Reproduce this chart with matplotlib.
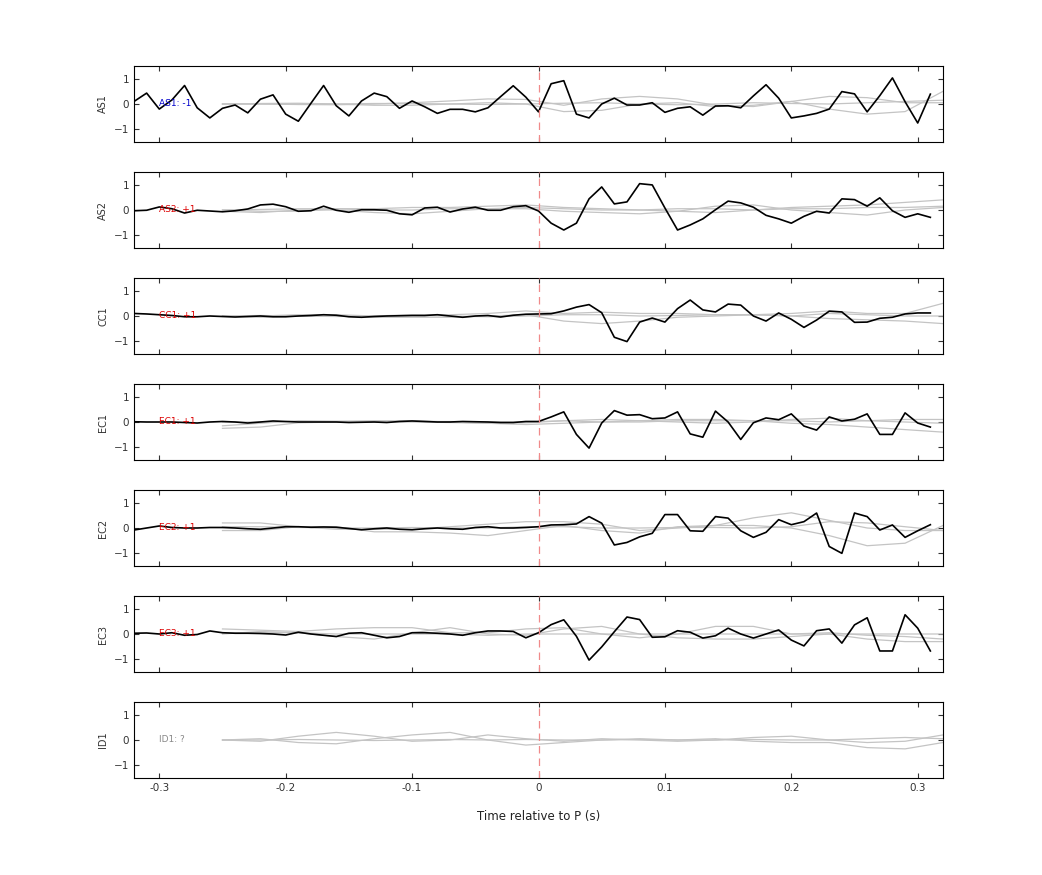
import numpy as np
import matplotlib.pyplot as plt

channels = ['AS1', 'AS2', 'CC1', 'EC1', 'EC2', 'EC3', 'ID1']
labels = ['AS1: -1', 'AS2: +1', 'CC1: +1', 'EC1: +1', 'EC2: +1', 'EC3: +1', 'ID1: ?']
label_colors = ['#0000cc', '#dd0000', '#dd0000', '#dd0000', '#dd0000', '#dd0000', '#888888']

# black traces, sampled every 0.01 s from -0.32 to 0.31
t = np.round(np.arange(-0.32, 0.315, 0.01), 2)
traces = {
    'AS1': [0.1, 0.43, -0.2, 0.16, 0.73, -0.15, -0.55, -0.17, -0.04, -0.35, 0.19, 0.36, -0.4, -0.68, 0.03,
            0.73, -0.07, -0.47, 0.12, 0.43, 0.29, -0.17, 0.12, -0.11, -0.37, -0.21, -0.21, -0.31, -0.15, 0.29,
            0.72, 0.27, -0.31,
            0.8, 0.92, -0.4, -0.55, 0.0, 0.23, -0.04, -0.04, 0.05, -0.33, -0.17, -0.11, -0.44, -0.08, -0.07,
            -0.15, 0.32, 0.76, 0.23, -0.55, -0.47, -0.37, -0.2, 0.49, 0.4, -0.31, 0.33, 1.03, 0.09, -0.75, 0.39],
    'AS2': [-0.03, -0.01, 0.12, 0.05, -0.12, -0.01, -0.04, -0.07, -0.03, 0.04, 0.2, 0.23, 0.13, -0.05, -0.03,
            0.15, -0.01, -0.09, 0.01, 0.01, -0.01, -0.15, -0.19, 0.08, 0.11, -0.08, 0.04, 0.11, -0.01, -0.01,
            0.13, 0.17, -0.04,
            -0.52, -0.79, -0.52, 0.44, 0.91, 0.24, 0.32, 1.04, 0.99, 0.08, -0.79, -0.59, -0.35, 0.01, 0.35,
            0.28, 0.11, -0.21, -0.35, -0.52, -0.25, -0.05, -0.12, 0.44, 0.41, 0.15, 0.48, -0.03, -0.29, -0.15, -0.29],
    'CC1': [0.1, 0.08, 0.05, 0.02, -0.03, -0.03, 0.0, -0.02, -0.04, -0.02, 0.0, -0.03, -0.03, 0.0, 0.02,
            0.05, 0.03, -0.03, -0.05, -0.02, 0.0, 0.01, 0.02, 0.02, 0.05, 0.0, -0.05, 0.0, 0.02, -0.04,
            0.03, 0.07, 0.08,
            0.09, 0.2, 0.35, 0.45, 0.13, -0.84, -1.01, -0.24, -0.08, -0.24, 0.29, 0.63, 0.24, 0.16, 0.47,
            0.43, 0.0, -0.2, 0.12, -0.13, -0.45, -0.16, 0.19, 0.16, -0.25, -0.24, -0.09, -0.05, 0.08, 0.12, 0.12],
    'EC1': [0.01, 0.0, 0.0, 0.0, -0.02, -0.04, 0.0, 0.02, 0.0, -0.04, 0.0, 0.04, 0.02, 0.0, 0.0,
            0.0, 0.0, -0.02, -0.01, 0.0, -0.02, 0.02, 0.04, 0.02, 0.0, 0.0, 0.02, 0.01, 0.0, -0.02,
            -0.02, 0.02, 0.02,
            0.2, 0.4, -0.49, -1.03, -0.04, 0.45, 0.27, 0.29, 0.13, 0.16, 0.4, -0.47, -0.6, 0.43, 0.0,
            -0.69, -0.03, 0.16, 0.09, 0.32, -0.16, -0.32, 0.2, 0.04, 0.11, 0.32, -0.49, -0.49, 0.36, -0.04, -0.2],
    'EC2': [-0.08, 0.0, 0.08, 0.02, 0.0, 0.0, 0.02, 0.02, 0.0, -0.03, -0.05, 0.0, 0.05, 0.05, 0.03,
            0.04, 0.03, -0.02, -0.07, -0.03, 0.0, -0.05, -0.07, -0.03, 0.0, -0.03, -0.05, 0.02, 0.05, 0.0,
            0.0, 0.02, 0.05,
            0.12, 0.13, 0.16, 0.45, 0.19, -0.67, -0.57, -0.35, -0.21, 0.53, 0.53, -0.11, -0.13, 0.45, 0.39,
            -0.11, -0.37, -0.17, 0.33, 0.13, 0.25, 0.59, -0.73, -1.0, 0.59, 0.45, -0.08, 0.12, -0.37, -0.11, 0.13],
    'EC3': [0.03, 0.04, 0.0, 0.05, -0.05, -0.02, 0.12, 0.05, 0.03, 0.03, 0.02, 0.0, -0.04, 0.07, 0.0,
            -0.05, -0.1, 0.03, 0.05, -0.05, -0.15, -0.1, 0.05, 0.05, 0.03, 0.0, -0.05, 0.05, 0.12, 0.12,
            0.1, -0.15, 0.05,
            0.37, 0.56, -0.09, -1.03, -0.51, 0.09, 0.67, 0.57, -0.13, -0.11, 0.13, 0.07, -0.16, -0.07, 0.23,
            0.0, -0.16, 0.0, 0.16, -0.24, -0.47, 0.13, 0.2, -0.36, 0.36, 0.64, -0.67, -0.67, 0.76, 0.23, -0.67],
    'ID1': None,
}

# grey reference traces, sampled every 0.03 s from -0.25 to 0.32
tg = np.round(np.arange(-0.25, 0.325, 0.03), 2)
grey = {
    'AS1': [[0.0, 0.0, -0.02, -0.03, 0.0, 0.05, 0.12, 0.2, 0.18, -0.05, 0.2, 0.3, 0.2, -0.05, -0.1, 0.1, 0.3, 0.25, 0.05, 0.05],
            [0.0, 0.02, 0.03, 0.0, -0.05, -0.05, 0.0, 0.05, 0.0, -0.3, -0.25, 0.0, 0.05, -0.1, -0.05, 0.1, -0.2, -0.4, -0.3, 0.5],
            [0.0, 0.0, 0.0, 0.0, 0.02, 0.02, 0.0, -0.02, 0.0, 0.03, 0.05, 0.0, -0.03, 0.0, 0.05, 0.02, 0.0, 0.05, 0.1, 0.15]],
    'AS2': [[0.0, -0.05, -0.05, 0.05, 0.05, 0.1, 0.1, 0.15, 0.2, 0.1, 0.05, 0.0, -0.05, -0.1, 0.0, 0.1, 0.15, 0.2, 0.3, 0.4],
            [-0.05, -0.1, 0.0, 0.0, -0.1, -0.15, -0.05, 0.05, 0.05, -0.05, -0.1, -0.15, -0.05, 0.15, 0.2, 0.0, -0.1, -0.2, 0.0, 0.1],
            [0.0, 0.02, 0.05, 0.05, 0.0, 0.0, 0.05, 0.05, 0.1, 0.05, 0.0, 0.0, 0.05, 0.05, 0.0, 0.05, 0.05, 0.1, 0.1, 0.15]],
    'CC1': [[0.0, 0.0, 0.05, 0.05, 0.0, 0.05, 0.05, 0.1, 0.2, 0.1, 0.15, 0.1, 0.1, 0.05, 0.05, 0.1, 0.2, 0.1, 0.1, 0.5],
            [0.0, -0.05, 0.0, 0.0, -0.05, -0.05, -0.05, 0.0, 0.05, -0.2, -0.3, -0.2, -0.05, 0.0, 0.05, 0.0, -0.1, -0.15, -0.2, -0.3],
            [0.0, 0.02, 0.0, -0.02, 0.0, 0.02, 0.0, -0.03, 0.0, 0.05, 0.05, 0.0, 0.02, 0.05, 0.05, 0.0, 0.1, 0.05, 0.0, 0.0]],
    'EC1': [[-0.25, -0.2, -0.03, 0.0, 0.02, 0.0, -0.02, -0.05, -0.03, 0.05, 0.1, 0.05, 0.0, -0.05, 0.0, 0.1, 0.15, 0.05, 0.0, -0.05],
            [-0.15, -0.05, 0.05, 0.03, 0.05, 0.05, 0.0, -0.05, -0.1, -0.05, 0.0, 0.05, 0.1, 0.1, 0.05, -0.05, -0.1, -0.2, -0.3, -0.4],
            [0.0, 0.0, 0.02, 0.02, 0.0, 0.02, 0.02, 0.0, 0.0, 0.05, 0.0, 0.0, 0.05, 0.05, 0.05, 0.05, 0.0, 0.05, 0.1, 0.1]],
    'EC2': [[0.2, 0.2, 0.05, -0.05, -0.05, -0.05, 0.05, 0.15, 0.25, 0.25, 0.15, -0.1, 0.0, 0.1, 0.4, 0.6, 0.3, 0.0, -0.1, -0.1],
            [-0.1, -0.1, 0.05, 0.05, -0.15, -0.15, -0.2, -0.3, -0.1, 0.1, -0.1, -0.2, 0.05, 0.1, 0.1, 0.0, -0.3, -0.7, -0.6, 0.1],
            [0.05, 0.05, 0.02, 0.0, 0.0, 0.02, 0.0, 0.0, 0.05, 0.05, 0.0, 0.0, 0.02, 0.02, 0.0, 0.05, 0.25, 0.2, 0.05, -0.1]],
    'EC3': [[0.2, 0.15, 0.1, 0.2, 0.25, 0.25, 0.05, 0.05, 0.2, 0.25, 0.0, -0.15, 0.0, 0.3, 0.3, 0.0, 0.05, -0.05, -0.1, -0.2],
            [0.0, 0.1, 0.05, -0.1, -0.2, 0.05, 0.25, 0.0, -0.05, 0.2, 0.3, 0.0, -0.15, -0.2, -0.2, -0.1, 0.0, -0.2, -0.3, -0.3],
            [0.05, 0.05, 0.05, 0.0, 0.0, 0.0, 0.0, -0.05, 0.0, 0.0, 0.0, 0.0, 0.0, 0.0, 0.0, 0.0, 0.0, 0.0, 0.0, 0.0]],
    'ID1': [[0.0, -0.05, 0.15, 0.3, 0.15, -0.05, 0.0, 0.2, 0.05, -0.05, 0.05, 0.0, -0.05, 0.0, 0.1, 0.15, 0.0, -0.1, -0.05, 0.2],
            [0.0, 0.05, -0.1, -0.15, 0.05, 0.2, 0.3, 0.0, -0.2, -0.1, 0.0, 0.05, 0.0, 0.05, -0.05, -0.1, -0.1, -0.3, -0.35, -0.1],
            [0.0, 0.0, 0.02, 0.0, -0.02, 0.0, 0.02, 0.0, 0.02, 0.0, 0.0, 0.02, 0.0, 0.0, 0.02, 0.0, 0.0, 0.05, 0.1, 0.05]],
}

fig = plt.figure(figsize=(10.42, 8.75), dpi=100)
left, width = 134 / 1042, (943 - 134) / 1042
tops = [66, 172, 278, 384, 490, 596, 702]
h = 76

for i, ch in enumerate(channels):
    ax = fig.add_axes([left, 1 - (tops[i] + h) / 875, width, h / 875])
    for g in grey[ch]:
        ax.plot(tg, g, color='#c4c4c4', lw=0.9)
    if traces[ch] is not None:
        ax.plot(t, traces[ch], color='black', lw=1.2)
    ax.axvline(0, color='#f08a8a', lw=0.9, dashes=(6, 4), zorder=3)
    ax.text(-0.3, 0, labels[i], color=label_colors[i], fontsize=6.5, va='center')
    ax.set_xlim(-0.32, 0.32)
    ax.set_ylim(-1.5, 1.5)
    ax.set_yticks([-1, 0, 1])
    ax.set_xticks([-0.3, -0.2, -0.1, 0, 0.1, 0.2, 0.3])
    ax.tick_params(direction='in', top=True, right=True, labelsize=7.5, colors='#333333', length=3.5)
    ax.set_ylabel(ch, fontsize=7, color='#333333')
    if i < len(channels) - 1:
        ax.set_xticklabels([])
    else:
        ax.set_xticklabels(['-0.3', '-0.2', '-0.1', '0', '0.1', '0.2', '0.3'])
        ax.set_xlabel('Time relative to P (s)', fontsize=8.5, color='#222222', labelpad=12)

fig.savefig('out.png', dpi=100)
